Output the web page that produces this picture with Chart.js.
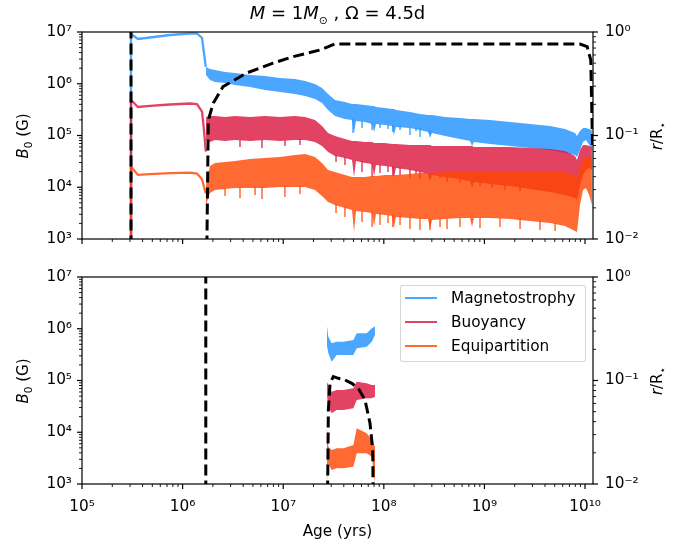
<!DOCTYPE html>
<html><head><meta charset="utf-8">
<script src="https://cdn.jsdelivr.net/npm/chart.js@4.4.1/dist/chart.umd.min.js"></script>
<style>
body{margin:0;background:#fff;}
#wrap{position:relative;width:685px;height:543px;overflow:hidden;font-family:'DejaVu Sans',sans-serif;color:#000;background:#fff;}
.abs{position:absolute;}
#title{left:82px;width:511px;top:1px;text-align:center;font-size:18px;line-height:24px;white-space:nowrap;}
#title sub{font-size:60%;}
.rot{font-size:15px;white-space:nowrap;transform:translate(-50%,-50%) rotate(-90deg);line-height:18px;}
#xlab{left:82px;width:511px;top:521px;text-align:center;font-size:15.3px;line-height:20px;}
#legend{left:400px;top:285px;width:186px;height:77px;border:1px solid rgba(204,204,204,0.8);border-radius:3px;background:rgba(255,255,255,0.8);box-sizing:border-box;}
.lrow{position:absolute;left:0;height:20px;width:100%;}
.lline{position:absolute;left:4px;width:32px;height:2.3px;top:9px;}
.ltext{position:absolute;left:50px;top:0;font-size:15.3px;line-height:20px;white-space:nowrap;}
sub{font-size:70%;}
</style>
</head><body>
<div id="wrap">
  <div class="abs" style="left:0;top:0;width:685px;height:280px"><canvas id="c1" width="685" height="280"></canvas></div>
  <div class="abs" style="left:0;top:250px;width:685px;height:293px"><canvas id="c2" width="685" height="293"></canvas></div>
  <div id="title" class="abs"><i>M</i> = 1<i>M</i><sub>⊙</sub> , Ω = 4.5d</div>
  <div class="abs rot" style="left:25px;top:136px"><i>B</i><sub>0</sub> (G)</div>
  <div class="abs rot" style="left:25px;top:381px"><i>B</i><sub>0</sub> (G)</div>
  <div class="abs rot" style="left:659px;top:136px"><i>r</i>/R<sub>⋆</sub></div>
  <div class="abs rot" style="left:659px;top:381px"><i>r</i>/R<sub>⋆</sub></div>
  <div id="xlab" class="abs">Age (yrs)</div>
  <div id="legend" class="abs"></div>
</div>
<script>
// ---------- tick labels ----------
const xTickValues = [1e5, 1e6, 1e7, 1e8, 1e9, 1e10];
const xTickLabels = ['10⁵', '10⁶', '10⁷', '10⁸', '10⁹', '10¹⁰'];
const bTickValues = [1e3, 1e4, 1e5, 1e6, 1e7];
const bTickLabels = ['10³', '10⁴', '10⁵', '10⁶', '10⁷'];
const rTickValues = [1e-2, 1e-1, 1];
const rTickLabels = ['10⁻²', '10⁻¹', '10⁰'];

// ---------- series ----------
const seriesNames = ['Magnetostrophy', 'Buoyancy', 'Equipartition'];
const seriesColors = ['rgba(30,144,255,0.8)', 'rgba(220,20,60,0.8)', 'rgba(255,69,0,0.8)'];

// top panel: pre-main-sequence smooth part
const preAge = [3.07e5, 3.07e5, 3.60e5, 4.74e5, 7.50e5, 1.19e6, 1.39e6, 1.56e6, 1.63e6, 1.70e6];
const preMag = [1e2, 9.15e6, 7.33e6, 7.83e6, 8.75e6, 9.36e6, 9.36e6, 7.66e6, 3.93e6, 2.11e6];
const preBuo = [1e2, 4.85e5, 3.56e5, 3.72e5, 3.97e5, 4.15e5, 4.06e5, 2.88e5, 1.28e5, 4.86e4];
const preEqu = [1e2, 2.50e4, 1.73e4, 1.80e4, 1.88e4, 1.91e4, 1.84e4, 1.43e4, 1.02e4, 7.6e3];

// top panel: noisy band (upper / lower envelopes)
const bandAge = [1.71e6, 1.87e6, 2.10e6, 2.64e6, 3.32e6, 4.68e6, 6.59e6, 9.29e6, 1.31e7, 1.65e7,
  2.07e7, 2.43e7, 2.79e7, 3.27e7, 4.11e7, 4.83e7, 5.06e7, 5.29e7, 6.50e7, 7.64e7,
  8.00e7, 8.36e7, 1.03e8, 1.21e8, 1.26e8, 1.32e8, 1.82e8, 2.29e8, 2.75e8, 2.88e8,
  3.01e8, 4.06e8, 5.72e8, 7.19e8, 7.53e8, 7.88e8, 1.14e9, 1.80e9, 2.84e9, 4.49e9,
  6.32e9, 7.96e9, 8.32e9, 8.91e9, 9.55e9, 1.02e10, 1.10e10, 1.17e10];
const magHi = [2.11e6, 1.93e6, 1.85e6, 1.69e6, 1.61e6, 1.48e6, 1.41e6, 1.29e6, 1.24e6, 1.13e6,
  9.89e5, 8.27e5, 6.34e5, 4.85e5, 4.44e5, 4.06e5, 4.06e5, 4.06e5, 3.88e5, 3.72e5,
  3.72e5, 3.56e5, 3.40e5, 3.25e5, 3.25e5, 3.11e5, 2.85e5, 2.60e5, 2.49e5, 2.49e5,
  2.49e5, 2.28e5, 2.18e5, 2.08e5, 2.08e5, 2.08e5, 1.99e5, 1.82e5, 1.67e5, 1.53e5,
  1.34e5, 1.12e5, 9.78e4, 1.22e5, 1.40e5, 1.40e5, 1.34e5, 1.28e5];
const magLo = [1.48e6, 1.18e6, 1.08e6, 1.03e6, 9.46e5, 8.65e5, 7.57e5, 6.93e5, 6.34e5, 5.80e5,
  5.07e5, 4.25e5, 3.11e5, 2.38e5, 2.08e5, 1.99e5, 1.12e5, 1.91e5, 1.82e5, 1.67e5,
  1.17e5, 1.67e5, 1.60e5, 1.53e5, 1.02e5, 1.46e5, 1.40e5, 1.28e5, 1.17e5, 8.95e4,
  1.12e5, 9.78e4, 8.56e4, 7.83e4, 6.27e4, 7.49e4, 6.85e4, 6.27e4, 5.73e4, 5.24e4,
  4.59e4, 4.20e4, 3.84e4, 5.24e4, 7.49e4, 8.19e4, 6.55e4, 5.24e4];
const buoHi = [2.28e5, 2.38e5, 2.38e5, 2.28e5, 2.38e5, 2.28e5, 2.38e5, 2.28e5, 2.38e5, 2.28e5,
  1.99e5, 1.53e5, 1.12e5, 9.78e4, 8.56e4, 7.83e4, 7.83e4, 7.83e4, 7.49e4, 7.49e4,
  7.16e4, 7.16e4, 7.16e4, 6.85e4, 6.85e4, 6.85e4, 6.55e4, 6.55e4, 6.55e4, 6.55e4,
  6.27e4, 6.27e4, 6.27e4, 6.27e4, 6.27e4, 6.00e4, 6.00e4, 6.00e4, 5.73e4, 5.48e4,
  5.01e4, 4.02e4, 3.36e4, 5.24e4, 6.55e4, 6.55e4, 6.27e4, 6.00e4];
const buoLo = [8.19e4, 7.49e4, 8.19e4, 7.83e4, 8.19e4, 7.83e4, 8.19e4, 7.83e4, 8.19e4, 8.19e4,
  7.49e4, 6.27e4, 4.80e4, 4.02e4, 3.67e4, 3.36e4, 1.58e4, 3.21e4, 2.94e4, 2.81e4,
  1.65e4, 2.69e4, 2.58e4, 2.46e4, 1.51e4, 2.36e4, 2.15e4, 1.97e4, 1.80e4, 1.26e4,
  1.73e4, 1.58e4, 1.44e4, 1.32e4, 9.68e3, 1.26e4, 1.16e4, 1.06e4, 9.25e3, 8.09e3,
  7.08e3, 6.20e3, 5.67e3, 1.10e4, 1.73e4, 2.15e4, 2.36e4, 2.15e4];
const equHi = [1.10e4, 2.58e4, 2.94e4, 3.08e4, 3.21e4, 3.51e4, 3.67e4, 3.84e4, 4.20e4, 4.39e4,
  3.84e4, 2.94e4, 2.15e4, 1.97e4, 1.73e4, 1.58e4, 1.58e4, 1.58e4, 1.58e4, 1.65e4,
  1.65e4, 1.65e4, 1.73e4, 1.73e4, 1.73e4, 1.73e4, 1.80e4, 1.88e4, 1.88e4, 1.88e4,
  1.88e4, 1.97e4, 1.97e4, 1.97e4, 1.97e4, 1.97e4, 2.06e4, 2.06e4, 2.06e4, 2.06e4,
  1.97e4, 1.73e4, 1.51e4, 2.36e4, 3.36e4, 3.84e4, 3.84e4, 3.67e4];
const equLo = [4.54e3, 7.74e3, 8.85e3, 9.25e3, 9.68e3, 9.68e3, 9.68e3, 1.01e4, 1.01e4, 1.01e4,
  8.85e3, 6.77e3, 5.19e3, 4.54e3, 3.97e3, 3.63e3, 1.36e3, 3.48e3, 3.33e3, 3.18e3,
  1.78e3, 3.04e3, 2.91e3, 2.78e3, 1.63e3, 2.66e3, 2.55e3, 2.43e3, 2.43e3, 1.56e3,
  2.33e3, 2.43e3, 2.55e3, 2.55e3, 1.71e3, 2.55e3, 2.55e3, 2.43e3, 2.23e3, 2.04e3,
  1.78e3, 1.43e3, 1.36e3, 4.54e3, 8.85e3, 9.68e3, 7.08e3, 4.54e3];

// top panel: individual downward excursions (age, from, to)
const spikeAgeMag = [4.94e7, 6.07e7, 7.64e7, 9.16e7, 1.10e8, 1.23e8, 1.45e8, 1.82e8, 2.09e8, 2.29e8, 2.88e8];
const spikeTopMag = [2.08e5, 1.91e5, 1.75e5, 1.67e5, 1.60e5, 1.60e5, 1.53e5, 1.46e5, 1.40e5, 1.40e5, 1.28e5];
const spikeBotMag = [1.12e5, 1.40e5, 1.28e5, 1.40e5, 1.34e5, 1.17e5, 1.28e5, 1.02e5, 1.22e5, 9.35e4, 1.07e5];
const spikeAgeBuo = [3.72e6, 6.15e6, 1.04e7, 1.47e7, 3.35e7, 4.11e7, 6.07e7, 7.64e7, 9.16e7, 1.10e8, 1.23e8, 1.45e8,
  1.82e8, 2.09e8, 2.29e8, 2.88e8, 3.62e8, 4.25e8, 5.72e8, 6.56e8, 9.04e8, 1.19e9, 1.60e9, 2.26e9];
const spikeTopBuo = [8.19e4, 8.19e4, 8.19e4, 8.56e4, 4.20e4, 3.84e4, 3.21e4, 2.94e4, 2.69e4, 2.58e4, 2.58e4, 2.46e4,
  2.25e4, 2.15e4, 2.06e4, 1.88e4, 1.73e4, 1.65e4, 1.51e4, 1.44e4, 1.26e4, 1.21e4, 1.10e4, 1.01e4];
const spikeBotBuo = [6.00e4, 5.73e4, 6.27e4, 6.55e4, 3.08e4, 2.69e4, 1.97e4, 1.58e4, 1.88e4, 1.97e4, 1.65e4, 1.73e4,
  1.51e4, 1.80e4, 1.44e4, 1.44e4, 1.51e4, 1.26e4, 1.21e4, 1.32e4, 1.06e4, 9.68e3, 8.85e3, 8.47e3];
const spikeAgeEqu = [2.64e6, 3.72e6, 5.25e6, 6.15e6, 1.04e7, 1.47e7, 3.35e7, 4.11e7, 6.07e7, 7.64e7, 9.16e7, 1.10e8,
  1.23e8, 1.45e8, 1.82e8, 2.29e8, 2.88e8, 3.62e8, 4.25e8, 5.72e8, 9.04e8, 1.43e9, 2.26e9, 3.57e9, 5.04e9];
const spikeTopEqu = [9.68e3, 1.01e4, 1.01e4, 1.01e4, 1.06e4, 1.06e4, 4.74e3, 4.15e3, 3.48e3, 3.33e3, 3.18e3, 2.91e3,
  2.91e3, 2.78e3, 2.66e3, 2.55e3, 2.43e3, 2.43e3, 2.43e3, 2.55e3, 2.55e3, 2.55e3, 2.55e3, 2.23e3, 2.04e3];
const spikeBotEqu = [6.77e3, 6.20e3, 7.08e3, 5.93e3, 6.48e3, 7.41e3, 3.18e3, 2.66e3, 2.13e3, 1.71e3, 1.87e3, 2.04e3,
  1.71e3, 1.87e3, 1.56e3, 1.49e3, 1.49e3, 1.71e3, 1.56e3, 1.71e3, 1.63e3, 1.71e3, 1.56e3, 1.49e3, 1.43e3];

// top panel: r/R* (dashed)
const rTopAge = [3.07e5, 3.07e5, 1e6, 1.70e6, 1.80e6, 2.02e6, 2.52e6, 4.34e6, 7.92e6, 1.25e7, 2.32e7, 3.27e7, 8.91e9, 1.05e10, 1.14e10, 1.19e10];
const rTop = [0.001, 1.0, null, 0.001, 0.141, 0.206, 0.296, 0.402, 0.501, 0.577, 0.670, 0.766, 0.766, 0.721, 0.536, 0.0724];

// bottom panel
const botAge = [2.71e7, 2.81e7, 3.03e7, 3.40e7, 3.96e7, 4.98e7, 5.38e7, 6.76e7, 7.59e7, 8.17e7];
const magHi2 = [1.18e6, 7.02e5, 5.23e5, 5.62e5, 5.62e5, 6.06e5, 8.17e5, 8.17e5, 1.02e6, 1.10e6];
const magLo2 = [4.85e5, 3.36e5, 2.31e5, 3.11e5, 3.11e5, 3.11e5, 4.19e5, 4.50e5, 5.62e5, 7.57e5];
const buoHi2 = [9.48e4, 8.19e4, 6.08e4, 6.55e4, 6.55e4, 7.06e4, 9.48e4, 8.83e4, 8.19e4, 8.19e4];
const buoLo2 = [5.73e4, 3.12e4, 2.32e4, 2.69e4, 2.69e4, 2.90e4, 4.20e4, 4.53e4, 4.53e4, 4.86e4];
const equHi2 = [1.28e4, 5.26e3, 4.54e3, 4.90e3, 4.90e3, 5.67e3, 1.19e4, 9.54e3, 7.08e3, 5.26e3];
const equLo2 = [1.04e3, 2.51e3, 1.87e3, 2.01e3, 2.01e3, 2.16e3, 3.92e3, 3.92e3, 3.37e3, 1.04e3];
const rBotAge = [1.70e6, 1.70e6, 1e7, 2.71e7, 2.81e7, 2.92e7, 3.15e7, 3.53e7, 3.96e7, 4.80e7, 5.58e7, 6.50e7, 7.29e7, 7.76e7, 8.00e7];
const rBot = [0.001, 1.0, null, 0.001, 0.0519, 0.094, 0.109, 0.105, 0.103, 0.094, 0.0841, 0.0648, 0.0386, 0.0213, 0.001];

// ---------- helpers ----------
const pts = (xs, ys) => xs.map((x, i) => ({x: x, y: ys[i]}));
const spikePts = (xs, tops, bots) => {
  const out = [];
  xs.forEach((x, i) => { out.push({x: x, y: tops[i]}, {x: x, y: bots[i]}, {x: x, y: null}); });
  return out;
};
const FONT = {family: "'DejaVu Sans', sans-serif", size: 15.3};

function allTicks(majors, min, max) {
  const out = [];
  majors.forEach(m => {
    for (let k = 1; k <= 9; k++) {
      const v = m * k;
      if (v >= min * 0.999999 && v <= max * 1.000001) out.push({value: v, major: k === 1});
    }
  });
  out.sort((a, b) => a.value - b.value);
  return out;
}
function labelFor(majors, labels) {
  return (v) => {
    const i = majors.findIndex(m => Math.abs(m - v) / m < 1e-6);
    return i >= 0 ? labels[i] : '';
  };
}
function logAxis(position, min, max, majors, labels, showLabels, padding, fitSize) {
  return {
    type: 'logarithmic', position: position, min: min, max: max,
    afterBuildTicks: (s) => { s.ticks = allTicks(majors, min, max); },
    afterFit: (s) => { if (position === 'bottom') s.height = fitSize; else s.width = fitSize; },
    ticks: {display: showLabels, autoSkip: false, maxRotation: 0, minRotation: 0, padding: padding,
            color: '#000', font: FONT, callback: labelFor(majors, labels)},
    grid: {display: false, drawTicks: false},
    border: {display: false}
  };
}

const framePlugin = {
  id: 'frame',
  afterDraw(chart) {
    const ctx = chart.ctx, a = chart.chartArea;
    ctx.save();
    ctx.strokeStyle = '#000';
    const drawTicks = (scale, side) => {
      scale.ticks.forEach(t => {
        const p = scale.getPixelForValue(t.value);
        const len = t.major ? 5 : 3;
        ctx.lineWidth = t.major ? 1.2 : 0.9;
        ctx.beginPath();
        if (side === 'bottom') { ctx.moveTo(p, a.bottom); ctx.lineTo(p, a.bottom + len); }
        else if (side === 'left') { ctx.moveTo(a.left, p); ctx.lineTo(a.left - len, p); }
        else { ctx.moveTo(a.right, p); ctx.lineTo(a.right + len, p); }
        ctx.stroke();
      });
    };
    drawTicks(chart.scales.x, 'bottom');
    drawTicks(chart.scales.y, 'left');
    drawTicks(chart.scales.yR, 'right');
    ctx.lineWidth = 1.2;
    ctx.strokeRect(a.left, a.top, a.right - a.left, a.bottom - a.top);
    ctx.restore();
  }
};

function lineDs(data, color, width, axis, extra) {
  return Object.assign({data: data, borderColor: color, backgroundColor: color, borderWidth: width,
    pointRadius: 0, tension: 0, fill: false, yAxisID: axis, spanGaps: false}, extra || {});
}
function bandDs(xs, hi, lo, color) {
  return [
    lineDs(pts(xs, hi), color, 0, 'y', {fill: '+1', backgroundColor: color}),
    lineDs(pts(xs, lo), color, 0, 'y')
  ];
}
const dashed = {borderDash: [11, 5], borderColor: '#000'};

function makeChart(id, datasets, topPad, xHeight, showX) {
  return new Chart(document.getElementById(id), {
    type: 'line',
    data: {datasets: datasets},
    options: {
      responsive: false, animation: false, devicePixelRatio: 1,
      layout: {padding: {top: topPad, left: 0, right: 0, bottom: 0}},
      plugins: {legend: {display: false}, tooltip: {enabled: false}, title: {display: false}},
      scales: {
        x: logAxis('bottom', 1e5, 1.2e10, xTickValues, xTickLabels, showX, 14, xHeight),
        y: logAxis('left', 1e3, 1e7, bTickValues, bTickLabels, true, 10, 82),
        yR: logAxis('right', 1e-2, 1, rTickValues, rTickLabels, true, 12, 92)
      }
    },
    plugins: [framePlugin]
  });
}

// top chart: dataset 0 is drawn last (on top): dashed, then orange, red, blue
const topSets = [
  lineDs(pts(rTopAge, rTop), '#000', 3, 'yR', dashed),
  lineDs(spikePts(spikeAgeEqu, spikeTopEqu, spikeBotEqu), seriesColors[2], 1.5, 'y'),
  lineDs(pts(preAge, preEqu), seriesColors[2], 2.3, 'y'),
  ...bandDs(bandAge, equHi, equLo, seriesColors[2]),
  lineDs(spikePts(spikeAgeBuo, spikeTopBuo, spikeBotBuo), seriesColors[1], 1.5, 'y'),
  lineDs(pts(preAge, preBuo), seriesColors[1], 2.3, 'y'),
  ...bandDs(bandAge, buoHi, buoLo, seriesColors[1]),
  lineDs(spikePts(spikeAgeMag, spikeTopMag, spikeBotMag), seriesColors[0], 1.5, 'y'),
  lineDs(pts(preAge, preMag), seriesColors[0], 2.3, 'y'),
  ...bandDs(bandAge, magHi, magLo, seriesColors[0])
];
makeChart('c1', topSets, 32, 41, false);

const botSets = [
  lineDs(pts(rBotAge, rBot), '#000', 3, 'yR', dashed),
  ...bandDs(botAge, equHi2, equLo2, seriesColors[2]),
  ...bandDs(botAge, buoHi2, buoLo2, seriesColors[1]),
  ...bandDs(botAge, magHi2, magLo2, seriesColors[0])
];
makeChart('c2', botSets, 27, 59, true);

// legend
const lg = document.getElementById('legend');
seriesNames.forEach((name, i) => {
  const row = document.createElement('div');
  row.className = 'lrow';
  row.style.top = (2 + i * 24) + 'px';
  row.innerHTML = '<div class="lline" style="background:' + seriesColors[i] + '"></div><div class="ltext">' + name + '</div>';
  lg.appendChild(row);
});
</script>
</body></html>
